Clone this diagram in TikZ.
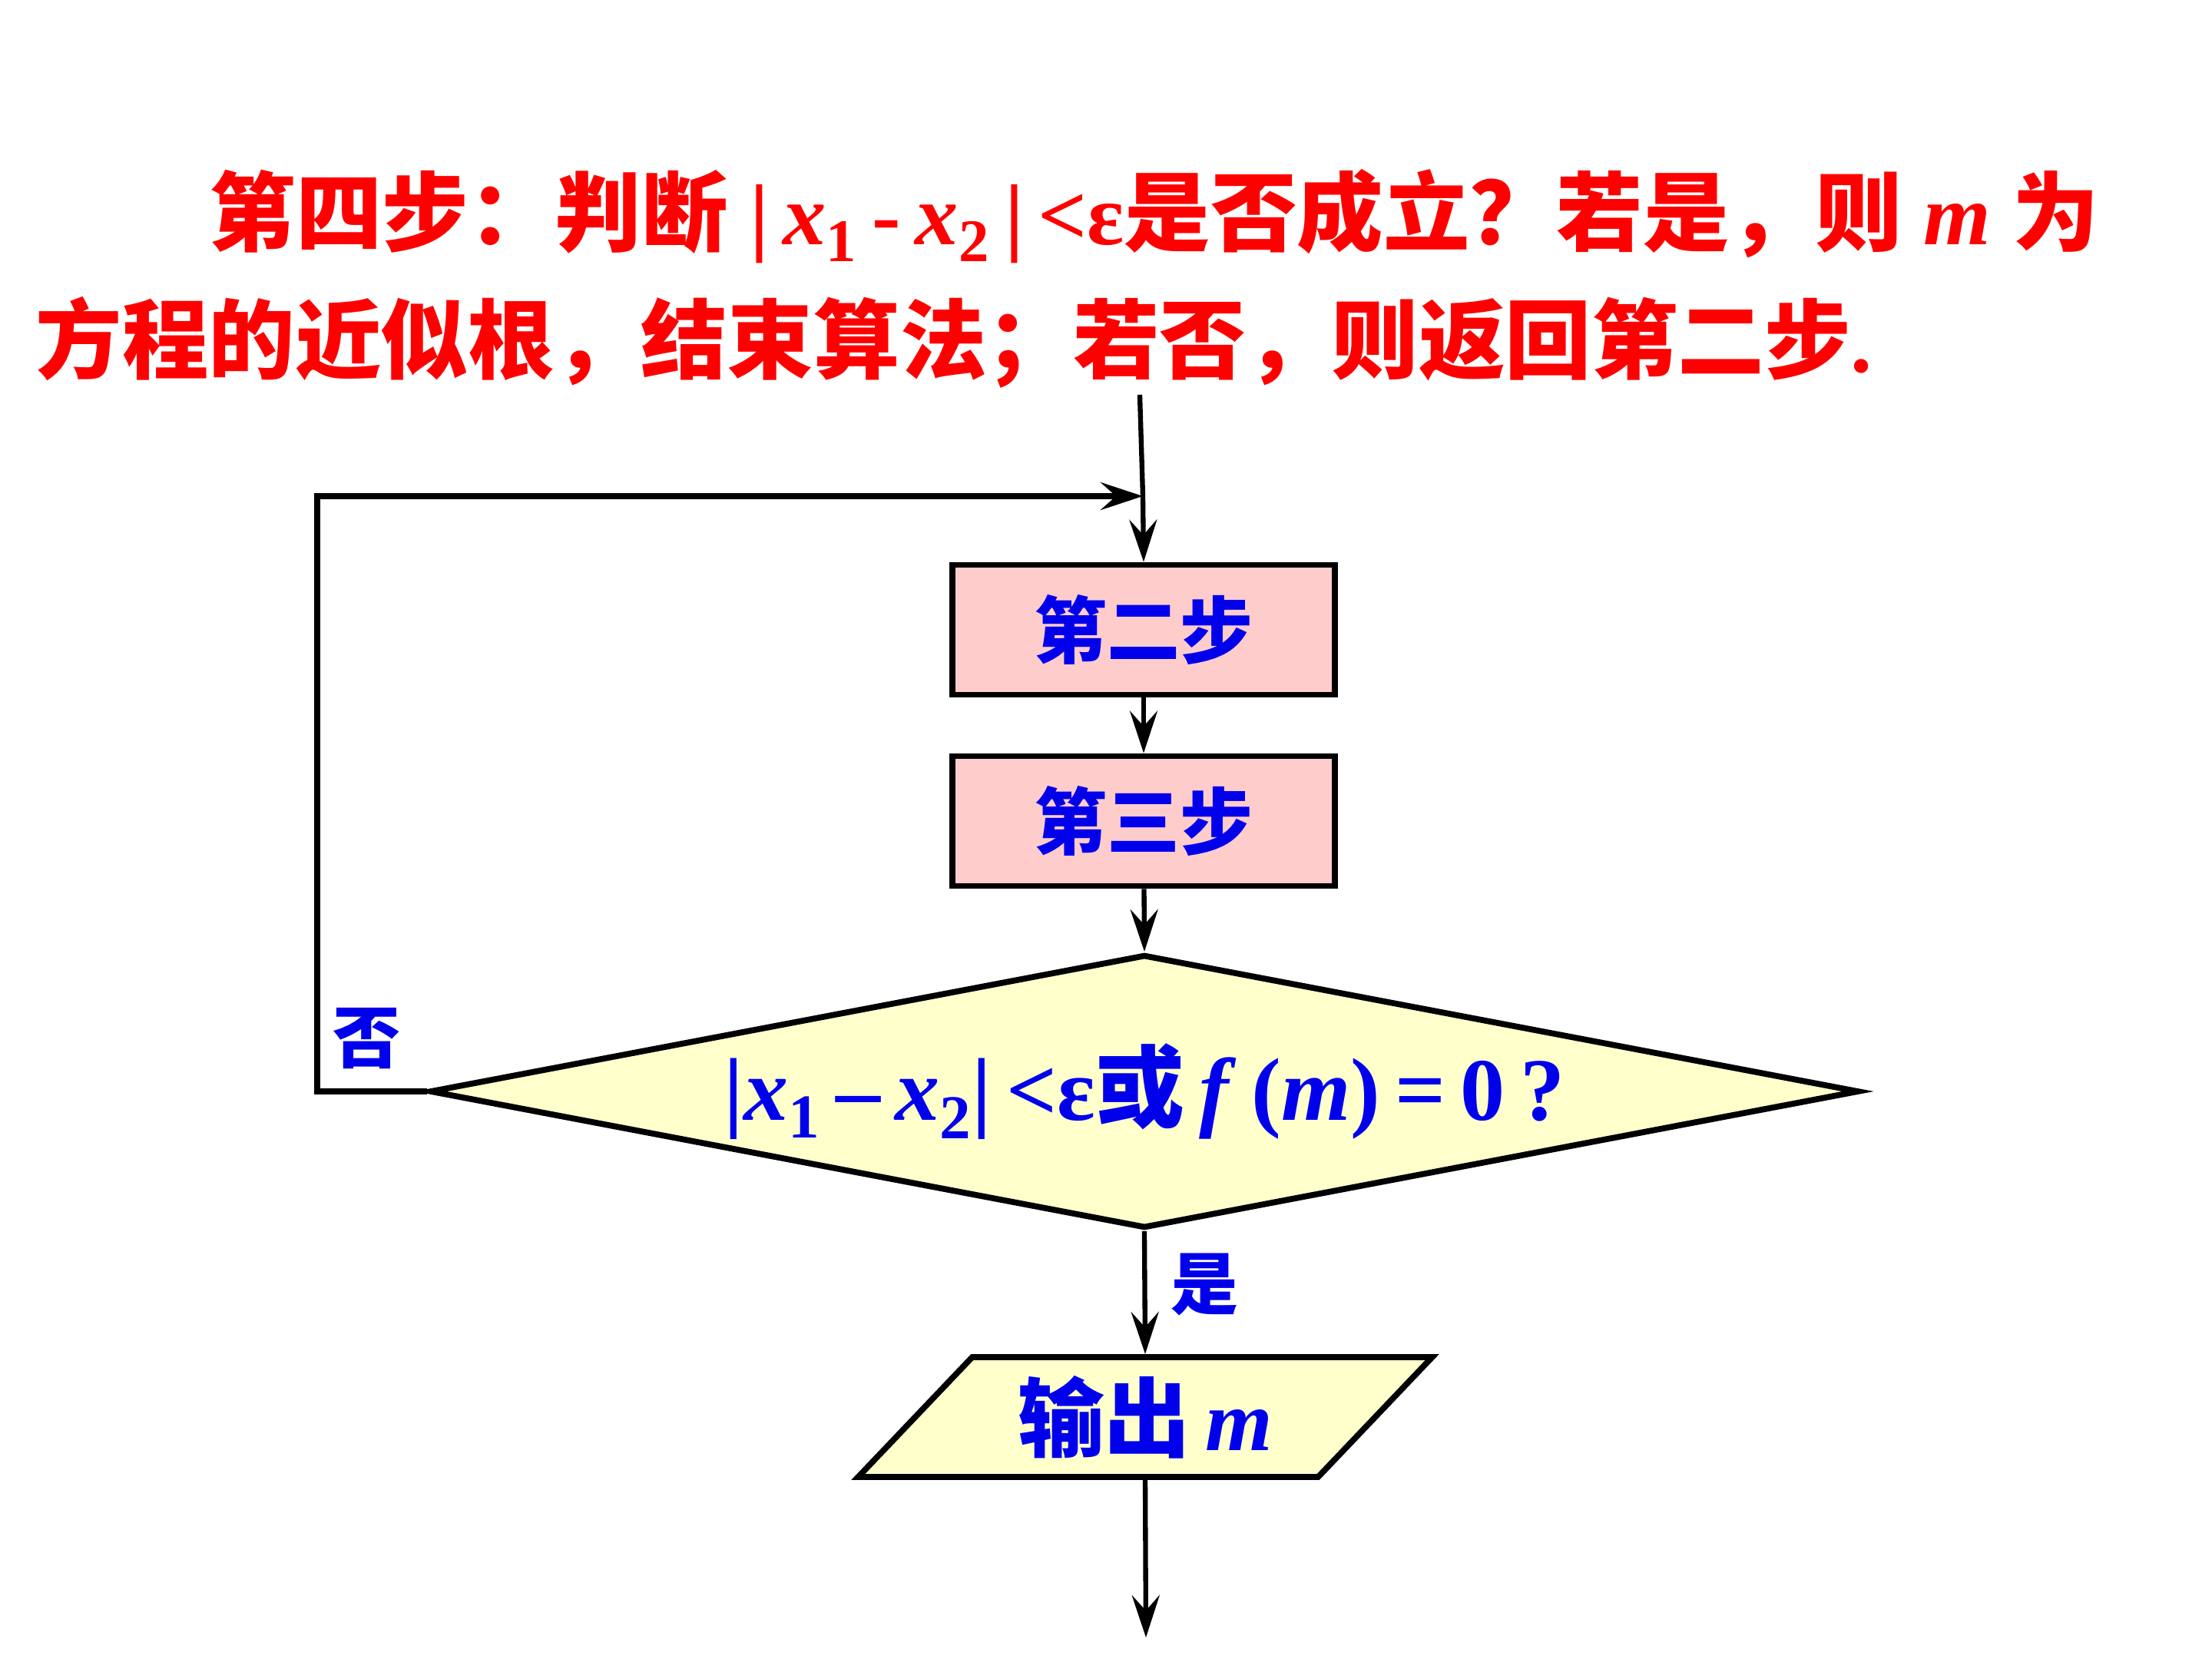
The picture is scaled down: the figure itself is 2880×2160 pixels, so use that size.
\documentclass[tikz,border=0pt]{standalone}
\usepackage{fontspec}
\setmainfont{Liberation Serif}
\newfontfamily\cjk{Noto Sans CJK SC}
\usetikzlibrary{arrows.meta,shapes.geometric}
\definecolor{tred}{RGB}{255,0,0}
\definecolor{tblue}{RGB}{0,0,235}
\definecolor{boxpink}{RGB}{255,204,204}
\definecolor{diayel}{RGB}{255,255,204}
\tikzset{
  stepbox/.style={draw=black, line width=2.2pt, fill=boxpink, minimum width=4.97cm, minimum height=1.69cm, inner sep=0pt, text=tblue, font=\fontsize{27}{30}\selectfont\cjk\bfseries},
  decide/.style={draw=black, line width=2.2pt, fill=diayel, shape=diamond, aspect=5.2, minimum width=18.6cm, minimum height=3.56cm, inner sep=0pt, text=tblue, font=\fontsize{33}{36}\selectfont\bfseries},
  outbox/.style={draw=black, line width=2.2pt, fill=diayel, shape=trapezium, trapezium left angle=36, trapezium right angle=144, trapezium stretches body, minimum width=7.47cm, minimum height=1.56cm, inner sep=0pt, text=tblue, font=\fontsize{32}{35}\selectfont\bfseries},
  flow/.style={draw=black, line width=1.8pt, -{Stealth[length=0.55cm, width=0.36cm, inset=0.2cm]}},
  lbl/.style={text=tblue, font=\fontsize{25}{28}\selectfont\cjk\bfseries, inner sep=0pt},
  title/.style={text=tred, font=\fontsize{32}{36}\selectfont\bfseries, inner sep=0pt, anchor=west}
}
\begin{document}
\begin{tikzpicture}[x=0.01cm, y=-0.01cm]
\useasboundingbox (0,0) rectangle (2880,2160);
\node[title] (t1) at (272,282) {{\cjk 第四步：判断} |\,\textit{x}\textsubscript{1}\,-\,\textit{x}\textsubscript{2}\,|\,<ε{\cjk 是否成立？若是，则}\ \textit{m}\ {\cjk 为}};
\node[title] (t2) at (46,446) {{\cjk 方程的近似根，结束算法；若否，则返回第二步}.};

\node[stepbox] (b1) at (1489,820) {第二步};
\node[stepbox] (b2) at (1489,1069) {第三步};
\node[decide] (d) at (1490,1421) {|\textit{x}\textsubscript{1}\,–\,\textit{x}\textsubscript{2}|\,<ε{\cjk 或}\,\textit{f}\,(\textit{m})\,=\,0\,?};
\node[outbox] (p) at (1491,1845) {{\cjk 输出}\,\textit{m}};

\coordinate (top) at (1484,514);
\coordinate (join) at (1488,646);
\coordinate (lb) at (413,1421);
\coordinate (lt) at (413,646);
\coordinate (fin) at (1492,2132);

\draw[line width=1.8pt] (top) -- (join);
\draw[flow] (join) -- (b1.north);
\draw[flow] (b1) -- (b2);
\draw[flow] (b2) -- (d.north);
\draw[flow] (d.south) -- (p.north);
\draw[flow] (p.south) -- (fin);
\draw[flow, line width=2pt] (d.west) -- (lb) -- (lt) -- (join);

\node[lbl] (no) at (477,1352) {否};
\node[lbl] (yes) at (1568,1672) {是};
\end{tikzpicture}
\end{document}
